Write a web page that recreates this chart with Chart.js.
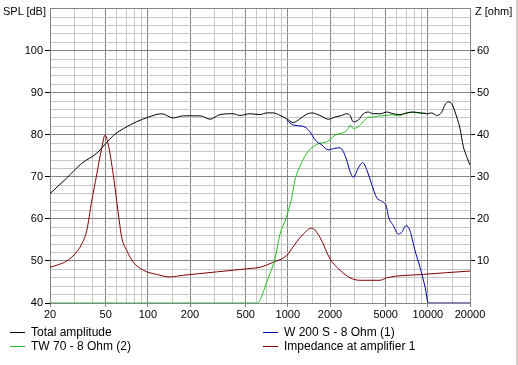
<!DOCTYPE html>
<html>
<head>
<meta charset="utf-8">
<script src="https://cdn.jsdelivr.net/npm/chart.js@4/dist/chart.umd.min.js"></script>
<style>
  html, body { margin: 0; padding: 0; background: #ffffff; }
  #wrap { position: relative; width: 518px; height: 365px; overflow: hidden; background: #fff; }
  canvas { position: absolute; left: 0; top: 0; }
  .lbl { position: absolute; font-family: "Liberation Sans", Arial, sans-serif; font-size: 11px; color: #000; white-space: nowrap; line-height: 13px; }
  .leg { position: absolute; font-family: "Liberation Sans", Arial, sans-serif; font-size: 12px; color: #000; white-space: nowrap; line-height: 14px; }
  .sw { position: absolute; height: 1px; width: 15px; }
  #edge { position: absolute; right: 0; top: 0; width: 2px; height: 365px; background: #d4d0c8; }
</style>
</head>
<body>
<div id="wrap">
  <canvas id="c" width="518" height="365"></canvas>
  <div class="lbl" style="left:3px; top:5px;">SPL [dB]</div>
  <div class="lbl" style="left:475px; top:5px;">Z [ohm]</div>
  <div id="legend"></div>
  <div id="edge"></div>
</div>
<script>
// ---- Data ----
const seriesNames = ["Total amplitude", "W 200 S - 8 Ohm (1)", "TW 70 - 8 Ohm (2)", "Impedance at amplifier 1"];
const seriesColors = ["#000000", "#0000a0", "#22c022", "#800000"];

const totalFreq = [20, 26.3, 33.7, 43.1, 50.3, 56.6, 70.6, 83.2, 100.8, 125.6, 152, 179, 236, 278, 327, 405, 455, 536, 632, 706, 787, 879, 981, 1094, 1221, 1364, 1479, 1697, 1945, 2172, 2425, 2630, 2779, 2933, 3185, 3460, 3757, 4075, 4550, 5082, 5667, 6325, 7060, 7875, 8790, 9815, 10640, 11560, 12560, 13250, 14000, 14800, 16070, 16970, 17920, 18940, 20000];
const totalDb   = [66.0, 69.7, 73.2, 75.6, 78.0, 79.8, 81.9, 83.1, 84.2, 85.0, 84.0, 84.5, 84.5, 83.7, 84.8, 85.0, 84.6, 85.0, 84.8, 85.2, 85.2, 84.6, 83.8, 82.9, 83.8, 84.9, 85.2, 84.6, 83.7, 84.2, 84.6, 85.0, 84.6, 83.1, 83.5, 85.0, 85.4, 85.0, 85.0, 85.4, 85.0, 84.8, 85.2, 85.4, 85.2, 85.0, 85.2, 84.6, 85.4, 87.1, 87.8, 87.4, 84.2, 81.5, 77.2, 74.8, 72.8];

const wooferFreq = [981, 1094, 1289, 1439, 1563, 1745, 1945, 2172, 2357, 2491, 2630, 2779, 2933, 3185, 3425, 3657, 3970, 4315, 4680, 5082, 5215, 5667, 6150, 6505, 6980, 7450, 8090, 8790, 9550, 10080, 20000];
const wooferDb   = [83.5, 82.3, 82.0, 80.7, 78.8, 77.6, 76.4, 76.8, 76.9, 76.0, 74.0, 71.3, 69.9, 72.1, 73.4, 71.7, 68.2, 65.0, 64.2, 62.7, 60.7, 58.4, 56.4, 56.8, 58.4, 57.2, 52.5, 48.5, 43.8, 40.0, 40.0];

const tweeterFreq = [20, 600, 632, 687, 745, 809, 879, 954, 1007, 1065, 1125, 1221, 1364, 1520, 1697, 1842, 2000, 2172, 2357, 2560, 2705, 2779, 2933, 3185, 3460, 3757, 4075, 4550, 4940, 5520, 6150, 6870, 7670, 8550, 9550];
const tweeterDb   = [40.0, 40.0, 40.7, 43.8, 47.0, 50.5, 56.4, 59.5, 61.9, 65.0, 69.3, 72.5, 75.6, 77.2, 78.0, 78.2, 78.8, 79.9, 80.3, 80.7, 81.5, 82.3, 81.5, 81.9, 83.1, 84.2, 84.2, 84.5, 84.5, 84.8, 84.5, 85.0, 85.4, 85.2, 85.2];

const impFreq = [20, 22.9, 26.3, 30.2, 33.7, 36.6, 39.7, 43.1, 46.8, 49.4, 52.2, 56.6, 59.9, 62.5, 65.0, 70.6, 78.7, 92.8, 115.6, 143.9, 179, 236, 310, 407, 536, 632, 787, 981, 1125, 1289, 1479, 1697, 2000, 2357, 2779, 3276, 4550, 5082, 9275, 20000];
const impOhm  = [8.5, 9.1, 9.95, 11.7, 14.0, 17.2, 24.2, 30.5, 36.8, 39.9, 37.6, 30.5, 24.2, 19.5, 15.6, 12.5, 9.7, 7.8, 6.8, 6.2, 6.6, 7.0, 7.4, 7.8, 8.2, 8.5, 9.7, 11.3, 14.0, 16.4, 17.8, 15.6, 10.5, 7.8, 6.0, 5.4, 5.4, 6.0, 6.8, 7.6];

const xTickValues  = [20, 30, 40, 50, 60, 70, 80, 90, 100, 150, 200, 300, 400, 500, 600, 700, 800, 900, 1000, 1500, 2000, 3000, 4000, 5000, 6000, 7000, 8000, 9000, 10000, 15000, 20000];
const xLabelValues = [20, 50, 100, 200, 500, 1000, 2000, 5000, 10000, 20000];
const splLabels = [40, 50, 60, 70, 80, 90, 100];
const ohmLabels = [10, 20, 30, 40, 50, 60];

// ---- Build ----
const zip = (xs, ys) => xs.map((x, i) => ({ x: x, y: ys[i] }));
const DARK = "#858585", LIGHT = "#c6c6c6";
const FONT = { family: "'Liberation Sans', Arial, sans-serif", size: 11 };

const datasets = [
  { label: seriesNames[0], data: zip(totalFreq, totalDb), borderColor: seriesColors[0], yAxisID: "y" },
  { label: seriesNames[1], data: zip(wooferFreq, wooferDb), borderColor: seriesColors[1], yAxisID: "y" },
  { label: seriesNames[2], data: zip(tweeterFreq, tweeterDb), borderColor: seriesColors[2], yAxisID: "y" },
  { label: seriesNames[3], data: zip(impFreq, impOhm), borderColor: seriesColors[3], yAxisID: "y2" }
].map(d => Object.assign(d, { borderWidth: 1, pointRadius: 0, fill: false, cubicInterpolationMode: "monotone" }));

// draw order: impedance, tweeter, woofer, total on top
datasets[0].order = 0; datasets[1].order = 1; datasets[2].order = 2; datasets[3].order = 3;

new Chart(document.getElementById("c"), {
  type: "line",
  data: { datasets: datasets },
  options: {
    responsive: false,
    animation: false,
    devicePixelRatio: 1,
    layout: { padding: { top: 5, left: 0, right: 0, bottom: 0 } },
    plugins: { legend: { display: false }, tooltip: { enabled: false } },
    scales: {
      x: {
        type: "logarithmic",
        min: 20, max: 20000,
        afterBuildTicks: (axis) => { axis.ticks = xTickValues.map(v => ({ value: v })); },
        afterFit: (s) => { s.height = 62; },
        ticks: {
          autoSkip: false, maxRotation: 0, minRotation: 0, padding: 1,
          color: "#000", font: FONT,
          callback: (v) => xLabelValues.includes(v) ? String(v) : ""
        },
        grid: {
          color: (c) => (c.tick && xLabelValues.includes(c.tick.value)) ? DARK : LIGHT,
          tickColor: (c) => (c.tick && xLabelValues.includes(c.tick.value)) ? DARK : "rgba(0,0,0,0)",
          tickLength: 4
        },
        border: { color: DARK }
      },
      y: {
        type: "linear", position: "left",
        min: 40, max: 110,
        afterFit: (s) => { s.width = 50; },
        ticks: {
          stepSize: 2, autoSkip: false, padding: 2, color: "#000", font: FONT,
          callback: (v) => splLabels.includes(v) ? String(v) : ""
        },
        grid: {
          color: (c) => (c.tick && c.tick.value % 10 === 0) ? DARK : LIGHT,
          tickColor: (c) => (c.tick && splLabels.includes(c.tick.value)) ? "#000" : "rgba(0,0,0,0)",
          tickLength: 5
        },
        border: { color: DARK }
      },
      y2: {
        type: "linear", position: "right",
        min: 0, max: 70,
        afterFit: (s) => { s.width = 48; },
        ticks: {
          stepSize: 10, autoSkip: false, padding: 2, color: "#000", font: FONT,
          callback: (v) => ohmLabels.includes(v) ? String(v) : ""
        },
        grid: {
          drawOnChartArea: false,
          tickColor: (c) => (c.tick && ohmLabels.includes(c.tick.value)) ? "#000" : "rgba(0,0,0,0)",
          tickLength: 5
        },
        border: { color: DARK }
      }
    }
  }
});

// ---- HTML legend (two columns) ----
const legendPos = [
  { left: 10, top: 325 },   // Total amplitude
  { left: 263, top: 325 },  // W 200 S
  { left: 10, top: 339 },   // TW 70
  { left: 263, top: 339 }   // Impedance
];
const legendEl = document.getElementById("legend");
seriesNames.forEach((name, i) => {
  const p = legendPos[i];
  const sw = document.createElement("div");
  sw.className = "sw";
  sw.style.left = p.left + "px";
  sw.style.top = (p.top + 7) + "px";
  sw.style.background = seriesColors[i];
  legendEl.appendChild(sw);
  const t = document.createElement("div");
  t.className = "leg";
  t.style.left = (p.left + 21) + "px";
  t.style.top = p.top + "px";
  t.textContent = name;
  legendEl.appendChild(t);
});
</script>
</body>
</html>
